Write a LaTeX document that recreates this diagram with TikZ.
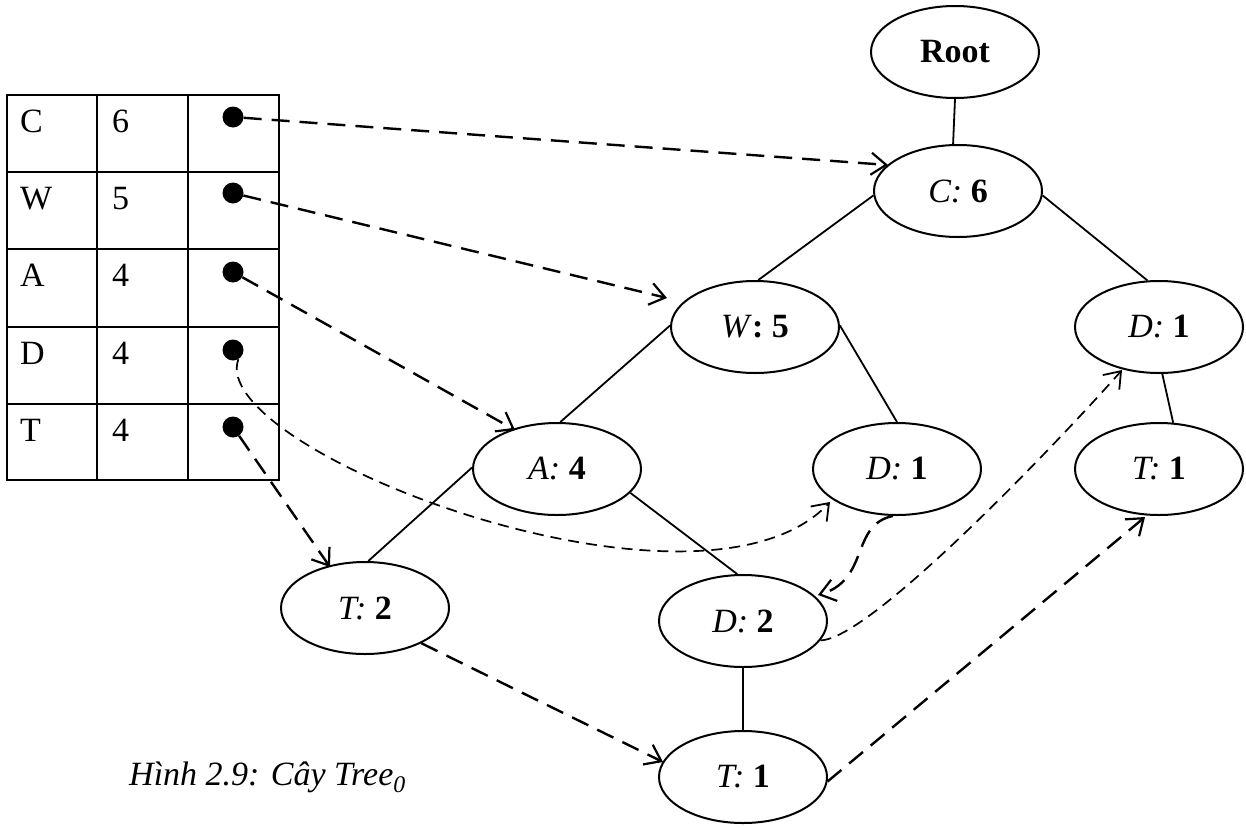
\documentclass[tikz,border=0pt]{standalone}
\usepackage{fontspec}
\setmainfont{Liberation Serif}
\usetikzlibrary{shapes.geometric,arrows.meta,calc}
\begin{document}
\begin{tikzpicture}[x=1pt,y=-1pt,
  every node/.style={font=\fontsize{34}{40}\selectfont},
  tnode/.style={ellipse,draw,line width=2pt,minimum width=168pt,minimum height=92pt,inner sep=0pt},
  treeline/.style={line width=1.8pt},
  ptr/.style={line width=2.4pt,dash pattern=on 18pt off 10pt,-{Straight Barb[length=15pt,width=22pt,line width=2.2pt]}},
  ptrthin/.style={line width=1.7pt,dash pattern=on 11pt off 7pt,-{Straight Barb[length=15pt,width=22pt,line width=1.8pt]}},
  ptrdot/.style={circle,fill,minimum size=21pt,inner sep=0pt},
  tcell/.style={anchor=base west,inner sep=0pt}]
\useasboundingbox (0,0) rectangle (1246,827);

% header table
\draw[line width=2.2pt] (7,95) rectangle (279,480);
\foreach \xx in {97,188} \draw[line width=2.2pt] (\xx,95) -- (\xx,480);
\foreach \yy in {172,249,327,404} \draw[line width=2.2pt] (7,\yy) -- (279,\yy);

\node[tcell] (lC) at (20,132) {C};
\node[tcell] (lW) at (20,209) {W};
\node[tcell] (lA) at (20,286) {A};
\node[tcell] (lD) at (20,364) {D};
\node[tcell] (lT) at (20,441) {T};
\node[tcell] (nC) at (112,132) {6};
\node[tcell] (nW) at (112,209) {5};
\node[tcell] (nA) at (112,286) {4};
\node[tcell] (nD) at (112,364) {4};
\node[tcell] (nT) at (112,441) {4};

\node[ptrdot] (dC) at (233,117) {};
\node[ptrdot] (dW) at (233,193) {};
\node[ptrdot] (dA) at (233,272) {};
\node[ptrdot] (dD) at (233,350) {};
\node[ptrdot] (dT) at (233,427) {};

% tree nodes
\node[tnode] (Root) at (955,52) {\textbf{Root}};
\node[tnode] (C6) at (958,191) {\textit{C:} \textbf{6}};
\node[tnode] (W5) at (755,327) {\textit{W}\textbf{: 5}};
\node[tnode] (D1r) at (1159,327) {\textit{D:} \textbf{1}};
\node[tnode] (A4) at (557,469) {\textit{A:} \textbf{4}};
\node[tnode] (D1m) at (897,469) {\textit{D:} \textbf{1}};
\node[tnode] (T1r) at (1159,469) {\textit{T:} \textbf{1}};
\node[tnode] (T2) at (365,608) {\textit{T:} \textbf{2}};
\node[tnode] (D2) at (743,621) {\textit{D:} \textbf{2}};
\node[tnode] (T1b) at (743,777) {\textit{T:} \textbf{1}};

% tree edges
\draw[treeline] (Root.-90) -- (C6.96);
\draw[treeline] (C6.183) -- (W5.86);
\draw[treeline] (C6.-3) -- (D1r.104);
\draw[treeline] (W5.179) -- (A4.86);
\draw[treeline] (W5.1) -- (D1m.90);
\draw[treeline] (A4.179) -- (T2.86);
\draw[treeline] (A4.-18) -- (D2.97);
\draw[treeline] (D2.-90) -- (T1b.90);
\draw[treeline] (D1r.-86) -- (T1r.73);

% node-links from the header table
\draw[ptr] (dC) -- ($(C6)+(-70,-26)$);
\draw[ptr] (dW) -- ($(W5)+(-88,-29)$);
\draw[ptr] (dA) -- ($(A4)+(-42,-39)$);
\draw[ptrthin] (dD.-60) .. controls (205,450) and (700,640) .. ($(D1m)+(-67,33)$);
\draw[ptr] (dT) -- ($(T2)+(-35,-41)$);

% node-links between tree nodes of the same item
\draw[ptr] (T2.-32) -- ($(T1b)+(-80,-15)$);
\draw[ptr] (T1b.-3) -- ($(T1r)+(-14,48)$);
\draw[ptr] (D1m.-95) .. controls (850,525) and (870,580) .. ($(D2)+(75,-26)$);
\draw[ptrthin] (D2.-14) .. controls (870,640) and (1060,440) .. ($(D1r)+(-37,43)$);

% caption
\node[tcell] (cap) at (129,785) {\textit{Hình 2.9: Cây Tree\textsubscript{0}}};
\end{tikzpicture}
\end{document}
